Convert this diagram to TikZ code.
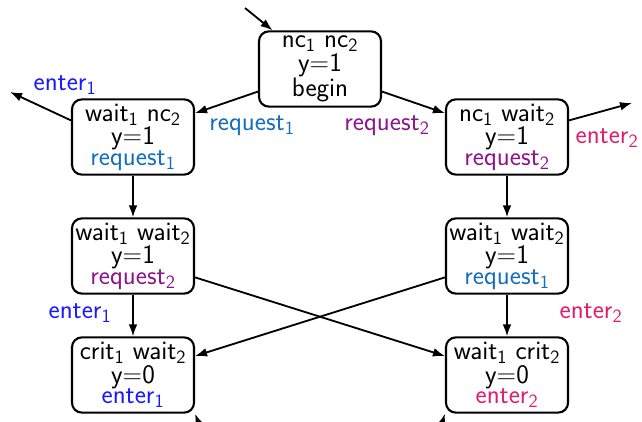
\documentclass[tikz,border=0pt]{standalone}
\usepackage{xcolor}
\usepackage{tikz}
\usetikzlibrary{arrows.meta, positioning}
\definecolor{reqone}{RGB}{20,110,190}
\definecolor{reqtwo}{RGB}{140,20,140}
\definecolor{entone}{RGB}{25,25,255}
\definecolor{enttwo}{RGB}{220,30,110}
\newcommand{\idx}[1]{\textsubscript{#1}}

\begin{document}
\begin{tikzpicture}[x=0.025cm, y=-0.025cm,
  font=\fontsize{19}{14.5}\selectfont\sffamily,
  loc/.style={draw, line width=1.5pt, rounded corners=7pt, align=center,
              inner sep=0pt, minimum width=3.05cm, minimum height=1.88cm},
  edge/.style={-{Latex[length=3mm, width=2.2mm]}, line width=1.3pt},
  lab/.style={anchor=base, inner sep=0pt}]
  \clip (0,0) rectangle (642,421);
  % locations
  \node[loc] (ncnc) at (320,69)  {nc\idx{1} nc\idx{2}\\y=1\\begin};
  \node[loc] (wn)   at (133,137) {wait\idx{1} nc\idx{2}\\y=1\\\textcolor{reqone}{request\idx{1}}};
  \node[loc] (nw)   at (507,137) {nc\idx{1} wait\idx{2}\\y=1\\\textcolor{reqtwo}{request\idx{2}}};
  \node[loc] (wwl)  at (133,256) {wait\idx{1} wait\idx{2}\\y=1\\\textcolor{reqtwo}{request\idx{2}}};
  \node[loc] (wwr)  at (507,256) {wait\idx{1} wait\idx{2}\\y=1\\\textcolor{reqone}{request\idx{1}}};
  \node[loc] (cw)   at (133,375) {crit\idx{1} wait\idx{2}\\y=0\\\textcolor{entone}{enter\idx{1}}};
  \node[loc] (wc)   at (507,375) {wait\idx{1} crit\idx{2}\\y=0\\\textcolor{enttwo}{enter\idx{2}}};
  % free ends
  \coordinate (init) at (245,8);
  \coordinate (outl) at (10,92);
  \coordinate (outr) at (632,103);
  \coordinate (cwin) at (205,440);
  \coordinate (wcin) at (437,440);
  % transitions
  \draw[edge] (init) -- (ncnc);
  \draw[edge] (ncnc.200) -- (wn.21);
  \draw[edge] (ncnc.-20) -- (nw.159);
  \draw[edge] (wn.165) -- (outl);
  \draw[edge] (nw.15) -- (outr);
  \draw[edge] (wn) -- (wwl);
  \draw[edge] (nw) -- (wwr);
  \draw[edge] (wwl) -- (cw);
  \draw[edge] (wwr) -- (wc);
  \draw[edge] (wwl.-19) -- (wc.163);
  \draw[edge] (wwr.199) -- (cw.17);
  \draw[edge] (cwin) -- (cw.south east);
  \draw[edge] (wcin) -- (wc.south west);
  % labels
  \node[lab, reqone] (lreqa) at (252,130) {request\idx{1}};
  \node[lab, reqtwo] (lreqb) at (387,130) {request\idx{2}};
  \node[lab, entone] (lenta) at (65,90)   {enter\idx{1}};
  \node[lab, enttwo] (lentb) at (607,143) {enter\idx{2}};
  \node[lab, entone] (lentc) at (80,318)  {enter\idx{1}};
  \node[lab, enttwo] (lentd) at (591,318) {enter\idx{2}};
\end{tikzpicture}
\end{document}
